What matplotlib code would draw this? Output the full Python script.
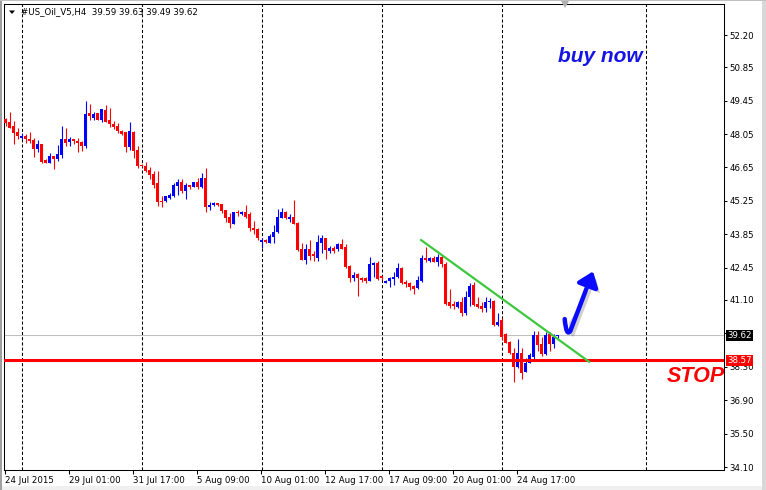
import numpy as np
import matplotlib
matplotlib.use("Agg")
import matplotlib.pyplot as plt
import matplotlib.patheffects as pe
from matplotlib.patches import FancyArrowPatch, Rectangle, Polygon
from matplotlib.path import Path
from matplotlib.transforms import blended_transform_factory

# H4 candles of #US_Oil_V5, one entry per bar
opens = [48.68, 48.57, 48.39, 48.14, 47.90, 47.97, 47.86, 47.80, 47.44, 47.64,
         46.96, 46.85, 47.12, 47.01, 47.17, 47.86, 47.70, 47.86, 47.77, 47.72,
         47.55, 48.92, 48.71, 48.93, 48.64, 49.06, 48.65, 48.47, 48.39, 48.19,
         48.12, 47.51, 48.14, 47.38, 46.74, 46.73, 46.55, 46.38, 46.00, 45.23,
         45.25, 45.39, 45.46, 45.87, 46.04, 45.67, 45.92, 45.83, 46.04, 45.83,
         46.21, 44.99, 45.08, 45.16, 45.13, 44.87, 44.56, 44.28, 44.76, 44.69,
         44.79, 44.69, 44.13, 44.06, 43.51, 43.63, 43.50, 43.74, 43.95, 44.55,
         44.77, 44.50, 44.58, 44.34, 43.24, 42.78, 43.24, 43.01, 42.87, 43.49,
         43.70, 43.17, 43.28, 43.25, 43.45, 43.32, 42.52, 42.04, 42.19, 42.04,
         42.02, 41.90, 42.58, 42.66, 42.09, 41.83, 41.88, 41.99, 42.05, 42.44,
         41.87, 41.81, 41.70, 41.62, 41.91, 42.84, 42.75, 42.87, 42.71, 42.91,
         42.61, 41.00, 40.93, 40.82, 41.03, 40.57, 41.21, 41.73, 40.93, 40.86,
         40.78, 41.00, 41.06, 40.05, 40.26, 39.66, 39.36, 38.89, 38.31, 38.86,
         38.10, 38.45, 38.73, 39.63, 39.24, 38.85, 39.66, 39.27, 39.59]
highs = [48.74, 48.99, 48.60, 48.29, 48.11, 48.04, 48.14, 47.89, 47.82, 47.64,
         47.01, 47.26, 47.12, 47.59, 48.39, 48.32, 47.91, 47.86, 47.90, 47.76,
         49.44, 49.31, 48.96, 48.93, 49.09, 49.28, 49.13, 48.60, 48.51, 48.24,
         48.12, 48.56, 48.18, 47.56, 46.80, 46.88, 46.68, 46.52, 46.50, 45.46,
         45.46, 45.57, 45.99, 46.17, 46.15, 46.01, 45.92, 46.04, 46.20, 46.41,
         46.64, 45.20, 45.20, 45.18, 45.13, 44.87, 44.73, 44.80, 44.87, 44.84,
         45.07, 44.80, 44.41, 44.10, 43.71, 43.65, 43.86, 44.24, 44.90, 44.97,
         44.83, 44.69, 45.29, 44.36, 43.47, 43.45, 43.61, 43.15, 43.82, 43.82,
         43.71, 43.38, 43.36, 43.47, 43.67, 43.45, 42.55, 42.27, 42.22, 42.06,
         42.08, 42.89, 42.68, 42.73, 42.11, 41.94, 42.05, 42.29, 42.66, 42.47,
         41.94, 41.87, 41.74, 42.09, 42.98, 43.31, 42.90, 42.94, 43.03, 42.98,
         42.68, 41.56, 41.07, 41.07, 41.24, 41.48, 41.80, 41.84, 41.21, 41.03,
         41.21, 41.17, 41.10, 40.54, 40.33, 39.73, 39.38, 39.07, 39.47, 39.07,
         38.66, 38.87, 39.80, 39.80, 39.56, 39.77, 39.77, 39.68, 39.63]
lows = [48.39, 48.29, 47.65, 47.83, 47.86, 47.69, 47.66, 47.10, 47.30, 46.83,
        46.83, 46.84, 46.60, 46.91, 47.03, 47.56, 47.56, 47.64, 47.31, 47.33,
        47.45, 48.64, 48.65, 48.63, 48.57, 48.54, 48.35, 48.25, 48.08, 48.03,
        47.29, 47.38, 47.03, 46.62, 46.69, 46.48, 46.17, 45.78, 45.05, 44.99,
        45.22, 45.33, 45.40, 45.50, 45.57, 45.33, 45.74, 45.82, 45.74, 45.78,
        44.77, 44.87, 45.05, 45.05, 44.76, 44.35, 44.13, 44.27, 44.62, 44.66,
        44.52, 44.00, 43.86, 43.63, 43.29, 43.49, 43.49, 43.47, 43.89, 44.52,
        44.48, 44.37, 44.28, 43.17, 42.78, 42.61, 42.78, 42.75, 42.73, 43.08,
        42.82, 43.08, 43.06, 43.15, 43.24, 42.43, 41.87, 41.90, 41.28, 41.85,
        41.80, 41.90, 42.08, 41.95, 41.95, 41.80, 41.63, 41.73, 42.00, 41.76,
        41.66, 41.52, 41.35, 41.56, 41.87, 42.70, 42.68, 42.71, 42.52, 42.50,
        40.89, 40.75, 40.72, 40.75, 40.44, 40.47, 40.86, 40.86, 40.78, 40.58,
        40.58, 40.75, 40.02, 40.02, 39.42, 39.28, 38.84, 37.68, 38.24, 37.79,
        38.10, 38.45, 38.63, 38.96, 38.77, 38.80, 38.96, 39.08, 39.49]
closes = [48.50, 48.32, 48.11, 47.98, 47.98, 47.86, 47.77, 47.44, 47.64, 46.90,
          46.84, 47.13, 47.01, 47.22, 47.86, 47.69, 47.84, 47.77, 47.69, 47.55,
          48.90, 48.79, 48.89, 48.63, 49.09, 48.57, 48.46, 48.36, 48.18, 48.05,
          47.52, 48.17, 47.36, 46.71, 46.73, 46.52, 46.34, 45.92, 45.20, 45.20,
          45.44, 45.51, 45.92, 46.03, 45.67, 45.92, 45.83, 46.03, 45.83, 46.21,
          44.99, 45.09, 45.18, 45.09, 44.83, 44.52, 44.31, 44.79, 44.74, 44.80,
          44.56, 44.11, 44.05, 43.70, 43.63, 43.51, 43.77, 43.95, 44.58, 44.79,
          44.52, 44.58, 44.30, 43.19, 42.78, 43.25, 42.94, 42.93, 43.54, 43.71,
          43.18, 43.29, 43.17, 43.43, 43.25, 42.47, 42.04, 42.15, 42.04, 41.95,
          41.90, 42.61, 42.66, 41.98, 42.01, 41.91, 42.01, 42.06, 42.44, 41.80,
          41.77, 41.64, 41.56, 41.92, 42.86, 42.77, 42.87, 42.71, 42.91, 42.61,
          40.93, 40.85, 40.85, 41.00, 40.57, 41.21, 41.70, 40.89, 40.82, 40.72,
          41.00, 41.06, 40.05, 40.16, 39.56, 39.31, 38.87, 38.31, 38.86, 38.03,
          38.47, 38.80, 39.63, 39.21, 38.85, 39.63, 39.27, 39.56, 39.62]

date_labels = ["24 Jul 2015", "29 Jul 01:00", "31 Jul 17:00", "5 Aug 09:00",
               "10 Aug 01:00", "12 Aug 17:00", "17 Aug 09:00", "20 Aug 01:00",
               "24 Aug 17:00"]
week_start_bars = [4, 34, 64, 94, 124, 160]
price_ticks = [52.20, 50.85, 49.45, 48.05, 46.65, 45.25, 43.85, 42.45,
               41.10, 39.70, 38.30, 36.90, 35.50, 34.10]
# 39.70 sits under the bid label box, so it shows no text
price_tick_labels = ["52.20", "50.85", "49.45", "48.05", "46.65", "45.25", "43.85",
                     "42.45", "41.10", "", "38.30", "36.90", "35.50", "34.10"]

bid_price = 39.62
stop_price = 38.57
trend_bars = [103.9, 145.9]
trend_prices = [43.61, 38.51]
arrow_bars = [139.8, 140.2, 141.2, 146.9]
arrow_prices = [40.30, 39.55, 39.80, 42.30]

BULL = "#0000ff"
BEAR = "#ff0000"
FONT = "DejaVu Sans"
FS = 6.2

fig = plt.figure(figsize=(7.66, 4.90), dpi=100)
fig.patch.set_facecolor("white")
ax = fig.add_axes([4 / 766, 20 / 490, 720 / 766, 466 / 490])
ax.set_facecolor("white")

# window frame
fig.patches.append(Rectangle((0, 0), 1, 4 / 490, transform=fig.transFigure,
                             fc="#f0f0f0", ec="none", zorder=0))
fig.patches.append(Rectangle((0, 0), 2 / 766, 1, transform=fig.transFigure,
                             fc="#a0a0a0", ec="none", zorder=0))
fig.patches.append(Rectangle((762 / 766, 0), 4 / 766, 1, transform=fig.transFigure,
                             fc="#d8d8d8", ec="none", zorder=0))
fig.patches.append(Rectangle((0, 489 / 490), 1, 1 / 490, transform=fig.transFigure,
                             fc="#c0c0c0", ec="none", zorder=0))
# chart shift marker
fig.patches.append(Polygon([[561 / 766, 489 / 490], [569 / 766, 489 / 490],
                            [565 / 766, 482 / 490]], closed=True,
                           transform=fig.transFigure, fc="#b0b0b0", ec="none"))

n = len(opens)
x = np.arange(n)
o = np.array(opens)
h = np.array(highs)
l = np.array(lows)
c = np.array(closes)
colors = np.where(c >= o, BULL, BEAR)

ax.vlines(x, l, h, colors=colors, linewidth=0.8, zorder=3)
body_h = np.maximum(np.abs(c - o), 0.045)
ax.bar(x, body_h, bottom=np.minimum(o, c), width=0.72, color=colors,
       linewidth=0, zorder=4)

# weekly separators
for b in week_start_bars:
    ax.axvline(b, color="black", linewidth=0.75, linestyle=(0, (3, 2)), zorder=1)

# bid and stop lines
ax.axhline(bid_price, color="#c0c0c0", linewidth=0.75, zorder=2)
ax.axhline(stop_price, color="#ff0000", linewidth=2.2, zorder=5)

# trend line
ax.plot(trend_bars, trend_prices, color="#3cc83c", linewidth=1.6, zorder=6)

# hand-drawn arrow: small hook then straight up to the tip
arrow_path = Path(list(zip(arrow_bars, arrow_prices)),
                  [Path.MOVETO, Path.CURVE3, Path.CURVE3, Path.LINETO])
arrow = FancyArrowPatch(path=arrow_path, arrowstyle="-|>,head_length=0.5,head_width=0.38",
                        mutation_scale=17, color="#0a0aff", linewidth=3.2,
                        joinstyle="round", capstyle="round", zorder=7)
arrow.set_path_effects([pe.withSimplePatchShadow(offset=(3, -3), shadow_rgbFace="#777777", alpha=0.35)])
ax.add_patch(arrow)

ax.text(138.1, 51.28, "buy now", color="#1414e6", fontsize=15, fontweight="bold",
        fontstyle="italic", family="Liberation Sans", ha="left", va="center", zorder=8)
ax.text(165.4, 37.91, "STOP", color="#ff0000", fontsize=15.5, fontweight="bold",
        fontstyle="italic", family="Liberation Sans", ha="left", va="center", zorder=8)

ax.set_xlim(-0.375, 179.625)
ax.set_ylim(33.977, 53.499)

# axes styling
for s in ax.spines.values():
    s.set_color("black")
    s.set_linewidth(0.75)
ax.yaxis.tick_right()
ax.set_yticks(price_ticks)
ax.set_yticklabels(price_tick_labels)
ax.set_xticks(np.arange(len(date_labels)) * 16 - 0.1)
ax.set_xticklabels(date_labels)
ax.tick_params(axis="y", direction="out", length=2.2, width=0.75, pad=2,
               labelsize=FS, colors="black")
ax.tick_params(axis="x", direction="out", length=3, width=0.75, pad=1.5,
               labelsize=FS, colors="black")
for lab in ax.get_xticklabels():
    lab.set_ha("left")
    lab.set_family(FONT)
for lab in ax.get_yticklabels():
    lab.set_family(FONT)

# price labels on the scale
tr = blended_transform_factory(ax.transAxes, ax.transData)
ax.text(1.0 + 3 / 720, bid_price, "39.62", transform=tr, color="white", fontsize=FS,
        family=FONT, ha="left", va="center", zorder=10, clip_on=False,
        bbox=dict(boxstyle="square,pad=0.12", fc="black", ec="none"))
ax.text(1.0 + 3 / 720, stop_price, "38.57", transform=tr, color="white", fontsize=FS,
        family=FONT, ha="left", va="center", zorder=10, clip_on=False,
        bbox=dict(boxstyle="square,pad=0.12", fc="#ff0000", ec="none"))

# header
ax.text(17 / 720, 1 - 8 / 466, "#US_Oil_V5,H4  39.59 39.63 39.49 39.62",
        transform=ax.transAxes, fontsize=FS, family=FONT, color="black",
        ha="left", va="center", zorder=9)
ax.add_patch(Polygon([[5 / 720, 1 - 6.5 / 466], [11 / 720, 1 - 6.5 / 466],
                      [8 / 720, 1 - 10 / 466]], closed=True,
                     transform=ax.transAxes, fc="black", ec="none", zorder=9))

fig.savefig("out.png", dpi=100)
plt.close(fig)
